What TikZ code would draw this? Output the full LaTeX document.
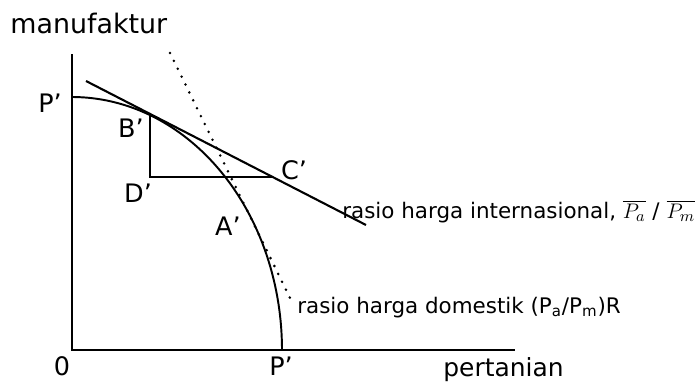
\documentclass[tikz,border=0pt]{standalone}
\usepackage{fontspec}
\setmainfont{DejaVu Sans}
\usetikzlibrary{calc,positioning}
\tikzset{
  ppfAxis/.style={line width=1.1pt},
  ppfCurve/.style={line width=1.1pt},
  ppfGuide/.style={line width=0.9pt},
  ppfPriceLine/.style={line width=1.2pt},
  ppfDottedLine/.style={line width=1.6pt, line cap=round, dash pattern=on 0pt off 5pt},
  ppfPoint/.style={font=\fontsize{14.5}{16}\selectfont, inner sep=0pt},
  ppfAxisLabel/.style={font=\fontsize{15.3}{17}\selectfont, inner sep=0pt, anchor=base west},
  ppfNote/.style={font=\fontsize{12.2}{14}\selectfont, inner sep=0pt, anchor=base west}
}

\begin{document}
\begin{tikzpicture}[x=0.02cm, y=-0.02cm]
      \useasboundingbox (0,0) rectangle (697,382);
      \coordinate (origin) at (72,350);
      \coordinate (yTop) at (72,54);
      \coordinate (xEnd) at (515,350);
      \coordinate (bPoint) at (150,115);
      \coordinate (dPoint) at (150,177);
      \coordinate (cPoint) at (273,177);
      \coordinate (intlStart) at (86,81);
      \coordinate (intlEnd) at (366,225);
      \coordinate (domStart) at (170,53);
      \coordinate (domEnd) at (292,302);
      \draw[ppfAxis] (yTop) -- (origin) -- (xEnd);
      \draw[ppfCurve] plot[domain=90:0, samples=80] ({72+210*cos(\x)}, {350-253*sin(\x)});
      \draw[ppfGuide] (bPoint) -- (dPoint) -- (cPoint);
      \draw[ppfPriceLine] (intlStart) -- (intlEnd);
      \draw[ppfDottedLine] (domStart) -- (domEnd);
      \node[ppfAxisLabel] (yLabel) at (10,33) {manufaktur};
      \node[ppfAxisLabel, font=\fontsize{14.2}{16}\selectfont] (xLabel) at (443,376) {pertanian};
      \node[ppfPoint] (pTopLabel) at (50,103) {P’};
      \node[ppfPoint] (bLabel) at (131,128) {B’};
      \node[ppfPoint] (dLabel) at (138,193) {D’};
      \node[ppfPoint] (cLabel) at (294,170) {C’};
      \node[ppfPoint] (aLabel) at (228,226) {A’};
      \node[ppfPoint] (originLabel) at (62,366) {0};
      \node[ppfPoint] (pBottomLabel) at (281,366) {P’};
      \node[ppfNote] (intlLabel) at (342,218) {rasio harga internasional, $\overline{P_a}$ / $\overline{P_m}$};
      \node[ppfNote] (domLabel) at (297,313) {rasio harga domestik (P\textsubscript{a}/P\textsubscript{m})R};
    \end{tikzpicture}
\end{document}
